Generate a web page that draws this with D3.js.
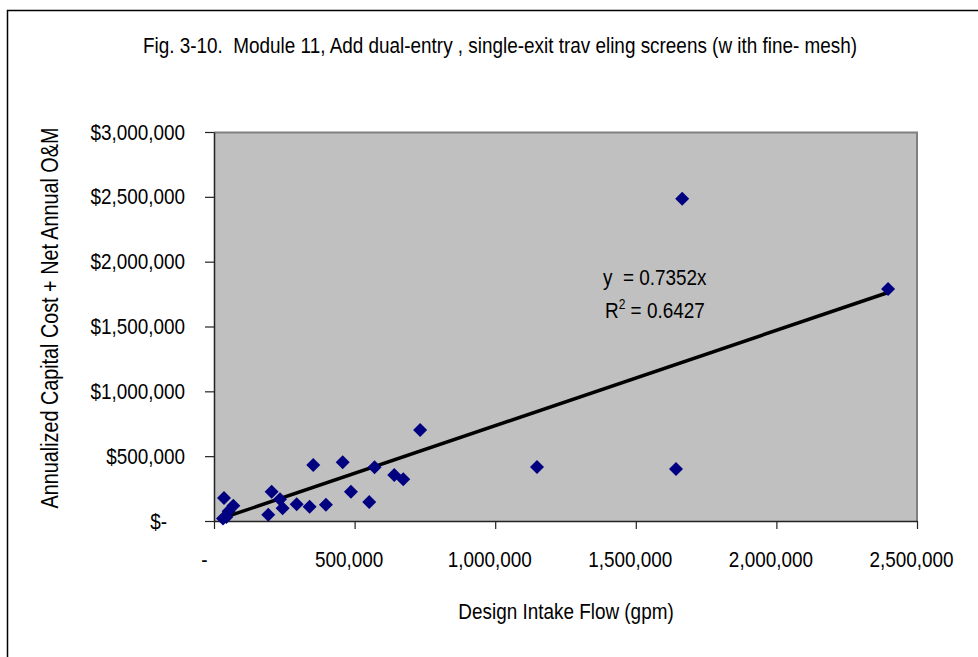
<!DOCTYPE html>
<html>
<head>
<meta charset="utf-8">
<script src="https://cdn.jsdelivr.net/npm/d3@7"></script>
<style>
  html, body { margin: 0; padding: 0; background: #fff; }
  svg text { font-family: "Liberation Sans", Arial, sans-serif; fill: #000; white-space: pre; }
</style>
</head>
<body>
<svg id="chart" width="978" height="657"></svg>
<script>
// ---- data ----
const titleText = "Fig. 3-10.  Module 11, Add dual-entry , single-exit trav eling screens (w ith fine- mesh)";
const xTitle = "Design Intake Flow (gpm)";
const yTitle = "Annualized Capital Cost + Net Annual O&M";
const flowGpm = [32000, 35600, 44000, 52000, 68700, 193000, 205000, 234700, 244000, 294000, 340000, 353000, 398000, 457600, 487000, 552000, 571000, 641000, 673000, 733000, 1148600, 1643000, 1665000, 2397000];
const costUsd = [20000, 178000, 30000, 75000, 118000, 48000, 226000, 167000, 98000, 130000, 110000, 432000, 126000, 453000, 226000, 146000, 414000, 355000, 322000, 702000, 416000, 401000, 2485000, 1789000];
const slope = 0.7352;
const eqLines = ["y  = 0.7352x", "R² = 0.6427"];
const xTicks = [0, 500000, 1000000, 1500000, 2000000, 2500000];
const xTickLabels = ["-", "500,000", "1,000,000", "1,500,000", "2,000,000", "2,500,000"];
const yTicks = [0, 500000, 1000000, 1500000, 2000000, 2500000, 3000000];
const yTickLabels = ["$-", "$500,000", "$1,000,000", "$1,500,000", "$2,000,000", "$2,500,000", "$3,000,000"];

// ---- layout ----
const SX = 0.86;            // narrow font look
const FS = 22;
const svg = d3.select("#chart");
const plot = { left: 214, right: 917, top: 132, bottom: 521 };
const x = d3.scaleLinear().domain([0, 2500000]).range([plot.left, plot.right]);
const y = d3.scaleLinear().domain([0, 3000000]).range([plot.bottom, plot.top]);

function narrowText(parent, px, py, str, anchor, rot, fs) {
  return parent.append("text")
    .attr("transform", `translate(${px},${py})` + (rot ? ` rotate(${rot})` : "") + ` scale(${SX},1)`)
    .attr("text-anchor", anchor || "start")
    .attr("font-size", fs || FS)
    .text(str);
}

// outer chart border
svg.append("rect").attr("x", 7.5).attr("y", 10.5).attr("width", 1000).attr("height", 700)
  .attr("fill", "#fff").attr("stroke", "#000").attr("stroke-width", 1.5);

// plot area
svg.append("rect").attr("x", plot.left).attr("y", plot.top)
  .attr("width", plot.right - plot.left).attr("height", plot.bottom - plot.top)
  .attr("fill", "#c0c0c0");
svg.append("path")
  .attr("d", `M${plot.left},${plot.top + 0.5}H${plot.right}V${plot.bottom}`)
  .attr("fill", "none").attr("stroke", "#808080").attr("stroke-width", 2);

// axes
const xAxis = d3.axisBottom(x).tickValues(xTicks).tickSize(8).tickSizeOuter(0)
  .tickFormat((d, i) => xTickLabels[i]);
const gx = svg.append("g").attr("transform", `translate(0,${plot.bottom})`).call(xAxis);
gx.attr("font-family", null).attr("font-size", null);
gx.select(".domain").attr("stroke", "#222").attr("stroke-width", 1.5);
gx.selectAll(".tick line").attr("stroke", "#222").attr("stroke-width", 1.2);
gx.selectAll(".tick text").attr("font-size", FS)
  .attr("y", 46).attr("dy", null)
  .attr("x", (d, i) => (i === 0 ? -10 : -6) / SX)
  .attr("transform", `scale(${SX},1)`);

const yAxis = d3.axisLeft(y).tickValues(yTicks).tickSize(9).tickSizeOuter(0)
  .tickFormat((d, i) => yTickLabels[i]);
const gy = svg.append("g").attr("transform", `translate(${plot.left},0)`).call(yAxis);
gy.attr("font-family", null).attr("font-size", null);
gy.select(".domain").attr("stroke", "#222").attr("stroke-width", 1.5);
gy.selectAll(".tick line").attr("stroke", "#222").attr("stroke-width", 1.2);
gy.selectAll(".tick text").attr("font-size", FS)
  .attr("x", (d, i) => (i === 0 ? -47 : -29) / SX)
  .attr("transform", `scale(${SX},1)`);

// trendline
const xExt = d3.extent(flowGpm);
svg.append("line")
  .attr("x1", x(xExt[0])).attr("y1", y(slope * xExt[0]))
  .attr("x2", x(xExt[1])).attr("y2", y(slope * xExt[1]))
  .attr("stroke", "#000").attr("stroke-width", 3.5);

// points
const pts = flowGpm.map((v, i) => [v, costUsd[i]]);
svg.append("g").selectAll("path").data(pts).join("path")
  .attr("transform", d => `translate(${x(d[0])},${y(d[1])})`)
  .attr("d", "M0,-7L7,0L0,7L-7,0Z")
  .attr("fill", "#000080");

// equation
narrowText(svg, 603, 285, eqLines[0]);
const r2 = svg.append("text").attr("transform", `translate(605,318) scale(${SX},1)`).attr("font-size", FS);
r2.append("tspan").text("R");
r2.append("tspan").attr("font-size", 14).attr("dy", -9).text("2");
r2.append("tspan").attr("dy", 9).text(" = 0.6427");

// titles
narrowText(svg, 500, 53, titleText, "middle");
narrowText(svg, 566, 619, xTitle, "middle");
narrowText(svg, 58, 318, yTitle, "middle", -90, 23);
</script>
</body>
</html>
